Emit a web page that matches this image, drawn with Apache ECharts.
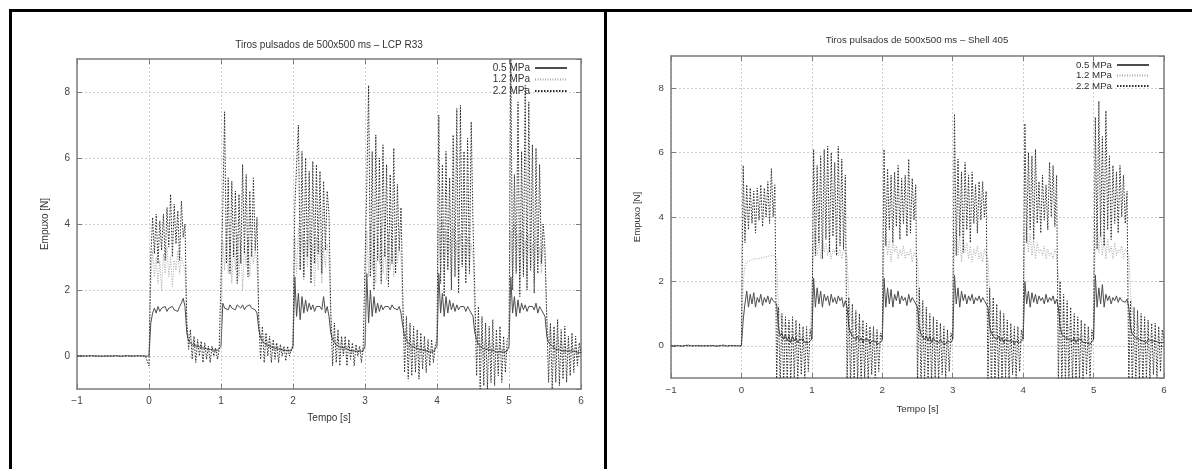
<!DOCTYPE html>
<html><head><meta charset="utf-8">
<script src="https://cdn.jsdelivr.net/npm/echarts@6/dist/echarts.min.js"></script>
<style>html,body{margin:0;padding:0;background:#fff}#c{width:1192px;height:469px}</style>
</head><body><div id="c"></div><script>
// ---- data (sampled every DT seconds starting at T_START) ----
const T_START = -1, DT = 0.025;
const seriesNames = ['0.5 MPa', '1.2 MPa', '2.2 MPa'];
const chartTitles = ['Tiros pulsados de 500x500 ms \u2013 LCP R33', 'Tiros pulsados de 500x500 ms \u2013 Shell 405'];
const xTitle = 'Tempo [s]', yTitle = 'Empuxo [N]';
const xMin = -1, xMax = 6, xStep = 1, yMin = -1, yMax = 9, yStep = 2;

// LCP R33
const lcp05 = [
0,0,0.01,0,0,-0.01,0,0,0.01,0, 0,0.01,0,0,-0.01,0,0,0.01,0,0, 0,0,0.01,0,-0.01,0,0,0,0.01,0, 0,-0.01,0,0,0.01,0,0,-0.01,0,0,
0,1.0,1.3,1.45,1.3,1.5,1.35,1.45,1.4,1.5,1.35,1.45,1.4,1.5,1.4,1.45,1.35,1.5,1.6,1.75,
1.5,0.7,0.45,0.4,0.35,0.3,0.3,0.25,0.28,0.22,0.25,0.2,0.22,0.18,0.2,0.15,0.18,0.15,0.17,0.15,
0.3,1.6,1.45,1.5,1.4,1.55,1.45,1.5,1.4,1.55,1.5,1.45,1.55,1.4,1.5,1.45,1.55,1.45,1.5,1.4,
1.3,0.8,0.55,0.45,0.4,0.35,0.3,0.3,0.25,0.25,0.2,0.22,0.18,0.2,0.15,0.18,0.15,0.17,0.14,0.15,
0.3,2.4,1.2,1.9,1.1,1.8,1.3,1.7,1.35,1.6,1.4,1.55,1.35,1.5,1.45,1.5,1.4,1.8,1.3,1.5,
1.2,0.7,0.5,0.4,0.35,0.3,0.3,0.25,0.22,0.25,0.2,0.18,0.2,0.15,0.18,0.15,0.17,0.14,0.15,0.15,
0.3,2.5,1.0,2.0,1.2,1.8,1.3,1.6,1.35,1.55,1.4,1.5,1.45,1.5,1.4,1.55,1.45,1.5,1.4,1.5,
1.3,0.9,0.6,0.5,0.4,0.35,0.3,0.28,0.25,0.22,0.2,0.2,0.18,0.15,0.17,0.15,0.12,0.15,0.13,0.15,
0.3,2.5,1.3,1.9,1.2,1.8,1.3,1.7,1.4,1.6,1.35,1.55,1.4,1.5,1.45,1.5,1.35,1.5,1.4,1.45,
1.2,0.7,0.5,0.35,0.3,0.25,0.25,0.2,0.2,0.18,0.15,0.17,0.15,0.12,0.15,0.13,0.15,0.12,0.15,0.15,
0.3,2.4,1.3,1.8,1.2,1.7,1.3,1.6,1.4,1.55,1.35,1.5,1.45,1.5,1.4,1.6,1.3,1.5,1.4,1.45,
1.2,0.6,0.4,0.35,0.3,0.25,0.2,0.2,0.18,0.2,0.15,0.18,0.15,0.12,0.15,0.13,0.15,0.12,0.1,0.12,
0.1];
const lcp12 = [
0,0,0,0,0,0,0,0,0,0, 0,0,0,0,0,0,0,0,0,0, 0,0,0,0,0,0,0,0,0,0, 0,0,0,0,0,0,0,0,0,0,
0,2.2,3.2,2.4,3.0,2.2,2.9,2.0,3.1,2.5,3.3,2.4,3.0,2.1,2.9,2.6,3.2,2.5,3.0,2.8,
2.6,1.0,0.6,0.5,0.4,0.5,0.3,0.4,0.25,0.35,0.2,0.3,0.2,0.25,0.15,0.25,0.15,0.2,0.1,0.2,
0.3,3.5,2.6,3.8,2.5,3.6,2.2,3.4,2.6,3.7,2.4,3.5,2.0,3.3,2.7,3.6,2.4,3.4,2.8,3.2,
2.8,1.1,0.7,0.4,0.6,0.3,0.5,0.25,0.4,0.2,0.35,0.2,0.3,0.15,0.25,0.15,0.2,0.1,0.2,0.15,
0.3,3.6,2.5,3.9,2.6,3.7,2.3,3.5,2.7,3.8,2.4,3.4,2.1,3.6,2.6,3.5,2.2,3.3,2.7,3.4,
2.9,1.2,0.6,0.5,0.3,0.6,0.2,0.5,0.1,0.4,0.2,0.35,0.1,0.3,0.15,0.25,0.1,0.2,0.15,0.2,
0.4,3.8,2.4,4.0,2.6,3.7,2.2,3.6,2.8,3.9,2.5,3.4,2.3,3.7,2.6,3.5,2.4,3.6,2.8,3.3,
3.0,1.3,0.5,0.8,0.2,0.6,0.1,0.5,0.2,0.4,0.1,0.35,0.15,0.3,0.1,0.25,0.15,0.2,0.1,0.2,
0.4,3.9,2.5,4.1,2.4,3.8,2.7,3.6,2.3,3.9,2.6,3.5,2.2,3.7,2.8,3.4,2.5,3.6,2.7,3.4,
3.0,1.2,0.4,0.9,0.1,0.7,0.0,0.5,0.2,0.5,0.0,0.4,0.1,0.35,0.05,0.3,0.1,0.25,0.05,0.2,
0.4,3.8,2.4,4.0,2.6,3.7,2.3,3.8,2.7,3.5,2.4,3.7,2.6,3.4,2.2,3.6,2.8,3.3,2.5,3.4,
2.9,1.2,0.5,0.9,0.2,0.7,0.1,0.6,0.2,0.5,0.1,0.4,0.15,0.35,0.1,0.3,0.15,0.25,0.1,0.2,
0.15];
const lcp22 = [
0,0.02,0,-0.02,0,0.03,0,-0.02,0,0.02, 0,0.02,0,-0.02,0,0.03,0,-0.02,0,0.02, 0,0.02,0,-0.02,0,0.03,0,-0.02,0,0.02, 0,0.02,0,-0.02,0,0.03,0,-0.02,0,0.02,
-0.3,3.0,4.2,3.1,4.3,2.8,4.1,3.2,4.3,2.9,4.5,3.3,4.9,3.0,4.6,3.4,4.4,2.9,4.7,3.6,
4.0,1.0,0.2,0.8,-0.1,0.6,-0.2,0.5,0.0,0.45,-0.2,0.4,-0.1,0.3,-0.2,0.3,0.0,0.25,-0.1,0.2,
0.2,4.5,7.4,2.8,5.4,2.5,5.3,3.0,5.0,2.2,4.9,2.8,5.8,3.1,5.5,2.4,5.0,3.0,5.4,3.2,
4.2,1.1,-0.1,0.9,-0.2,0.7,0.0,0.6,-0.2,0.5,-0.1,0.4,-0.2,0.35,0.0,0.3,-0.15,0.3,0.0,0.2,
0.3,4.5,5.8,7.0,2.6,6.2,2.4,6.0,3.0,5.6,2.2,5.9,2.8,5.8,3.1,5.6,2.5,5.3,3.2,5.0,
4.3,1.3,-0.3,1.0,-0.2,0.8,-0.3,0.6,0.0,0.6,-0.3,0.5,-0.1,0.4,-0.3,0.35,0.0,0.3,-0.2,0.3,
0.3,5.2,8.2,2.4,6.2,2.0,6.7,2.9,6.0,2.2,6.4,3.0,5.8,2.1,5.5,2.8,6.3,2.5,5.2,3.2,
4.5,1.8,-0.5,1.2,-0.7,1.0,-0.6,0.9,-0.5,0.8,-0.7,0.7,-0.4,0.6,-0.5,0.5,-0.3,0.5,-0.2,0.3,
0.5,7.3,2.2,5.8,1.8,6.2,2.6,5.4,2.0,6.7,2.4,7.5,1.9,7.6,2.7,6.2,2.2,6.6,2.5,7.1,
4.0,2.0,-0.6,1.5,-1.0,1.2,-0.9,1.0,-1.0,0.9,-0.8,1.1,-0.9,0.8,-0.6,0.9,-0.8,0.6,-0.5,0.5,
0.6,9.0,2.0,5.5,2.5,7.7,1.8,6.2,2.4,8.2,2.0,7.7,2.6,6.4,1.9,6.3,2.5,5.8,2.8,4.0,
3.2,1.1,-0.8,1.0,-1.0,0.9,-0.8,1.1,-0.9,0.8,-0.7,0.9,-0.8,0.6,-0.6,0.7,-0.5,0.6,-0.3,0.4,
0.1];

// Shell 405
const shell05 = [
0,0.02,0,-0.01,0.01,0,-0.02,0,0.01,0, 0.02,0,-0.01,0,0.01,-0.02,0,0.01,0,-0.01, 0,0.02,0,-0.01,0.01,0,-0.02,0,0.01,0, 0.02,0,-0.01,0,0.01,-0.02,0,0.01,0,-0.01,
0,0.8,1.3,1.7,1.2,1.6,1.3,1.65,1.2,1.5,1.35,1.6,1.25,1.5,1.35,1.55,1.3,1.5,1.4,1.45,
1.3,0.6,0.3,0.4,0.2,0.35,0.15,0.3,0.1,0.3,0.15,0.25,0.1,0.2,0.15,0.2,0.1,0.15,0.1,0.15,
0.2,2.1,1.2,1.8,1.3,1.7,1.2,1.6,1.4,1.55,1.25,1.6,1.35,1.5,1.3,1.55,1.4,1.5,1.2,1.4,
1.2,0.6,0.4,0.3,0.35,0.2,0.3,0.15,0.25,0.1,0.2,0.15,0.2,0.05,0.15,0.1,0.15,0.05,0.1,0.1,
0.2,2.1,1.2,1.8,1.3,1.75,1.2,1.6,1.4,1.7,1.3,1.55,1.4,1.5,1.25,1.6,1.35,1.5,1.4,1.45,
1.2,0.6,0.35,0.4,0.2,0.3,0.15,0.3,0.1,0.25,0.15,0.2,0.1,0.2,0.1,0.15,0.05,0.15,0.1,0.1,
0.2,2.2,1.3,1.8,1.2,1.7,1.4,1.6,1.3,1.55,1.4,1.6,1.3,1.5,1.4,1.55,1.35,1.5,1.4,1.45,
1.2,0.6,0.4,0.3,0.35,0.2,0.3,0.15,0.25,0.1,0.2,0.15,0.15,0.1,0.15,0.05,0.15,0.1,0.1,0.1,
0.2,2.0,1.3,1.7,1.2,1.65,1.35,1.6,1.3,1.55,1.4,1.5,1.3,1.6,1.35,1.5,1.4,1.55,1.3,1.45,
1.2,0.6,0.35,0.4,0.25,0.3,0.2,0.25,0.15,0.25,0.1,0.2,0.15,0.2,0.1,0.15,0.1,0.15,0.05,0.1,
0.2,2.2,1.2,1.8,1.3,1.9,1.2,1.6,1.4,1.55,1.3,1.5,1.4,1.55,1.35,1.5,1.4,1.45,1.35,1.45,
1.2,0.6,0.35,0.3,0.25,0.3,0.2,0.25,0.15,0.2,0.1,0.2,0.15,0.15,0.1,0.15,0.1,0.1,0.05,0.1,
0.1];
const shell12 = [
0,0,0,0,0,0,0,0,0,0, 0,0,0,0,0,0,0,0,0,0, 0,0,0,0,0,0,0,0,0,0, 0,0,0,0,0,0,0,0,0,0,
0,2.0,2.5,2.6,2.55,2.65,2.6,2.7,2.65,2.7,2.68,2.72,2.7,2.75,2.7,2.78,2.72,2.8,2.75,2.8,
2.6,1.3,0.9,0.8,0.6,0.7,0.5,0.6,0.4,0.5,0.35,0.45,0.3,0.4,0.3,0.35,0.25,0.3,0.2,0.3,
0.3,3.0,3.6,2.8,3.4,2.7,3.3,2.9,3.2,2.8,3.1,2.7,3.0,2.9,3.1,2.8,3.0,2.7,3.0,2.9,
2.8,1.4,1.0,0.7,0.8,0.5,0.7,0.4,0.6,0.35,0.5,0.3,0.45,0.3,0.4,0.25,0.35,0.2,0.3,0.25,
0.3,3.2,3.5,2.8,3.3,2.6,3.2,2.9,3.1,2.7,3.0,2.8,3.1,2.7,2.9,2.8,3.0,2.6,2.9,2.8,
2.7,1.5,1.0,0.8,0.7,0.6,0.6,0.5,0.5,0.4,0.45,0.35,0.4,0.3,0.35,0.25,0.3,0.2,0.3,0.25,
0.3,3.3,3.6,2.8,3.4,2.6,3.3,2.9,3.2,2.7,3.1,2.6,3.0,2.8,3.1,2.7,2.9,2.6,3.0,2.8,
2.7,1.6,1.0,0.8,0.7,0.6,0.6,0.5,0.5,0.4,0.45,0.35,0.4,0.3,0.35,0.3,0.3,0.25,0.3,0.2,
0.3,3.4,3.7,2.9,3.5,2.8,3.3,2.7,3.2,2.9,3.0,2.8,3.1,2.7,3.0,2.8,2.9,2.7,3.0,2.8,
2.8,1.6,1.1,0.8,0.7,0.6,0.6,0.5,0.5,0.4,0.45,0.35,0.4,0.3,0.35,0.3,0.3,0.25,0.3,0.2,
0.3,3.5,3.8,2.9,3.6,2.8,3.4,2.7,3.3,2.9,3.1,2.7,3.2,2.8,3.0,2.9,3.1,2.7,3.0,2.9,
2.8,1.6,1.1,0.8,0.7,0.6,0.6,0.5,0.5,0.4,0.45,0.35,0.4,0.3,0.35,0.3,0.3,0.25,0.3,0.2,
0.2];
const shell22 = [
0,0.02,0,-0.02,0,0.03,0,-0.02,0,0.02, 0,0.02,0,-0.02,0,0.03,0,-0.02,0,0.02, 0,0.02,0,-0.02,0,0.03,0,-0.02,0,0.02, 0,0.02,0,-0.02,0,0.03,0,-0.02,0,0.02,
0,5.6,3.2,5.0,3.6,4.9,3.8,4.8,3.5,4.9,3.9,5.0,3.7,4.9,4.0,5.1,3.8,5.5,4.0,5.0,
-1.2,1.2,-1.3,1.0,-1.2,0.9,-1.1,0.8,-1.2,0.9,-1.0,0.8,-1.1,0.7,-0.9,0.6,-1.0,0.6,-0.8,0.5,
0.2,6.1,2.8,5.6,3.2,5.9,2.7,6.1,3.3,6.2,2.9,6.0,3.4,5.7,2.8,6.2,3.1,5.8,3.0,5.3,
-1.2,1.5,-1.3,1.3,-1.2,1.1,-1.1,1.0,-1.2,0.8,-1.0,0.7,-1.1,0.6,-0.9,0.6,-1.0,0.5,-0.8,0.4,
0.2,6.1,3.1,5.5,3.6,5.3,3.2,5.4,3.7,5.6,3.3,5.2,3.8,5.3,3.4,5.8,3.5,5.2,3.9,5.0,
-1.2,1.8,-1.3,1.4,-1.2,1.2,-1.1,1.0,-1.2,0.9,-1.0,0.8,-1.1,0.7,-0.9,0.6,-1.0,0.5,-0.8,0.4,
0.2,7.2,2.8,5.8,3.4,5.4,2.9,5.7,3.6,5.3,3.2,5.4,3.8,5.0,3.5,5.1,3.9,5.1,4.0,4.8,
-1.2,1.8,-1.3,1.5,-1.2,1.3,-1.1,1.1,-1.2,1.0,-1.0,0.8,-1.1,0.7,-0.9,0.6,-1.0,0.6,-0.8,0.5,
0.2,6.9,3.2,6.0,3.6,5.9,3.3,6.1,3.8,5.1,3.5,5.3,3.9,5.0,3.6,5.7,4.0,5.6,3.7,5.3,
-1.2,2.0,-1.3,1.6,-1.2,1.4,-1.1,1.2,-1.2,1.0,-1.1,0.9,-1.0,0.8,-1.1,0.7,-0.9,0.6,-1.0,0.5,
0.2,7.1,3.0,7.6,3.4,6.5,3.1,7.3,3.6,5.9,3.3,5.6,3.8,5.4,3.5,5.6,4.0,5.3,3.8,4.8,
-1.2,1.4,-1.3,1.2,-1.2,1.1,-1.1,1.0,-1.2,0.9,-1.0,0.8,-1.1,0.7,-0.9,0.7,-1.0,0.6,-0.8,0.5,
0.2];

// ---- chart ----
const FONT = '"Liberation Sans", Arial, sans-serif';
const FRAME = '#7c7c7c';
const GRIDC = '#cdcdcd';
const styles = [
  {color: '#4d4d4d', width: 1, type: 'solid'},
  {color: '#a9a9a9', width: 1, type: [1, 1.5]},
  {color: '#2a2a2a', width: 1, type: [1.5, 1.5]}
];
const panels = [
  {grid: {left: 77, top: 59, width: 504, height: 330}, data: [lcp05, lcp12, lcp22], nameGapX: 24, nameGapY: 27, fs: 10},
  {grid: {left: 671, top: 56, width: 493, height: 322}, data: [shell05, shell12, shell22], nameGapX: 26, nameGapY: 29, fs: 9.7}
];

function pairs(vals) {
  return vals.map((v, i) => [Math.round((T_START + i * DT) * 1000) / 1000, v]);
}
const fmt = v => (v < 0 ? '\u2212' + Math.abs(v) : String(v));

const grid = [], xAxis = [], yAxis = [], series = [];
panels.forEach((p, k) => {
  grid.push(Object.assign({containLabel: false}, p.grid));
  ['bottom', 'top'].forEach(pos => {
    xAxis.push({
      type: 'value', gridIndex: k, position: pos, min: xMin, max: xMax, interval: xStep,
      axisLine: {show: true, onZero: false, lineStyle: {color: FRAME, width: 1.5}},
      axisTick: {show: true, inside: true, length: 5, lineStyle: {color: FRAME, width: 1}},
      axisLabel: {show: pos === 'bottom', color: '#444', fontSize: p.fs, fontFamily: FONT, margin: 7, formatter: fmt},
      splitLine: {show: pos === 'bottom', lineStyle: {color: GRIDC, width: 1, type: [2, 2]}},
      name: pos === 'bottom' ? xTitle : '', nameLocation: 'middle', nameGap: p.nameGapX,
      nameTextStyle: {color: '#333', fontSize: p.fs, fontFamily: FONT}
    });
  });
  ['left', 'right'].forEach(pos => {
    yAxis.push({
      type: 'value', gridIndex: k, position: pos, min: yMin, max: yMax, minInterval: yStep, maxInterval: yStep,
      axisLine: {show: true, onZero: false, lineStyle: {color: FRAME, width: 1.5}},
      axisTick: {show: true, inside: true, length: 5, lineStyle: {color: FRAME, width: 1}},
      axisLabel: {show: pos === 'left', color: '#444', fontSize: p.fs, fontFamily: FONT, margin: 7,
                  showMinLabel: false, showMaxLabel: false, formatter: fmt},
      splitLine: {show: pos === 'left', showMinLine: false, showMaxLine: false, lineStyle: {color: GRIDC, width: 1, type: [2, 2]}},
      name: pos === 'left' ? yTitle : '', nameLocation: 'middle', nameRotate: 90, nameGap: p.nameGapY,
      nameTextStyle: {color: '#333', fontSize: p.fs, fontFamily: FONT}
    });
  });
  p.data.forEach((vals, s) => {
    series.push({
      name: seriesNames[s], type: 'line', xAxisIndex: k * 2, yAxisIndex: k * 2,
      data: pairs(vals), symbol: 'none', showSymbol: false, clip: true, silent: true,
      color: styles[s].color, lineStyle: styles[s], emphasis: {disabled: true}, z: 2 + s
    });
  });
});

const legendBase = {data: seriesNames, orient: 'vertical', align: 'right', padding: 0,
  itemWidth: 32, itemHeight: 10, selectedMode: false, itemStyle: {opacity: 0}};

const chart = echarts.init(document.getElementById('c'), null, {renderer: 'canvas'});
chart.setOption({
  animation: false,
  backgroundColor: '#fff',
  grid, xAxis, yAxis, series,
  legend: [
    Object.assign({}, legendBase, {right: 624, top: 63, itemGap: 1.5,
      textStyle: {fontSize: 10, color: '#333', fontFamily: FONT}}),
    Object.assign({}, legendBase, {right: 42, top: 60, itemGap: 0.5,
      textStyle: {fontSize: 9.7, color: '#333', fontFamily: FONT}})
  ],
  graphic: [
    {type: 'line', shape: {x1: 9, y1: 10.5, x2: 1192, y2: 10.5}, style: {stroke: '#000', lineWidth: 3}, silent: true},
    {type: 'line', shape: {x1: 10.5, y1: 9, x2: 10.5, y2: 469}, style: {stroke: '#000', lineWidth: 3}, silent: true},
    {type: 'line', shape: {x1: 605.5, y1: 9, x2: 605.5, y2: 469}, style: {stroke: '#000', lineWidth: 3}, silent: true},
    {type: 'text', x: 329, y: 45, silent: true,
     style: {text: chartTitles[0], align: 'center', verticalAlign: 'middle', font: '10px ' + FONT, fill: '#333'}},
    {type: 'text', x: 917, y: 40, silent: true,
     style: {text: chartTitles[1], align: 'center', verticalAlign: 'middle', font: '9.7px ' + FONT, fill: '#333'}}
  ]
});
</script></body></html>
